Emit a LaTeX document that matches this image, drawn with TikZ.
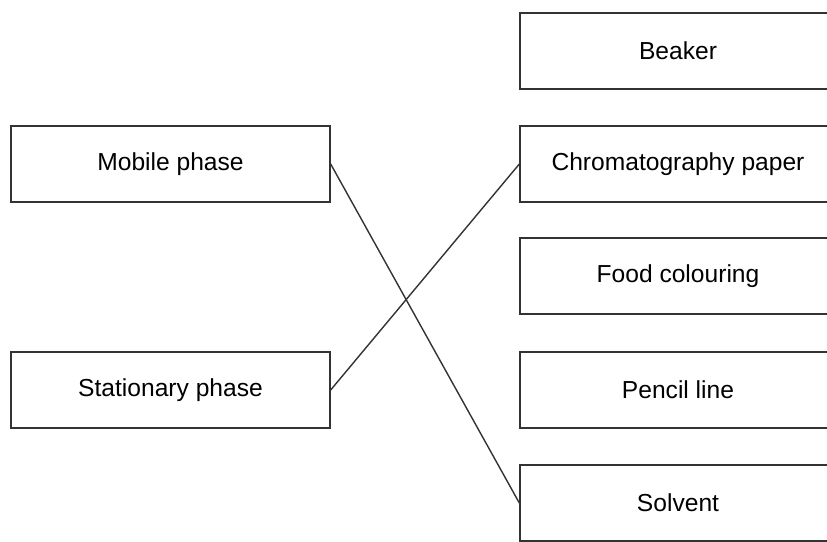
\documentclass[tikz,border=0pt]{standalone}
\usepackage{fontspec}
\setmainfont{Liberation Sans}
\usepackage{tikz}
\usetikzlibrary{positioning}
\definecolor{edge}{HTML}{333333}

\begin{document}
\begin{tikzpicture}[x=0.02cm, y=-0.02cm,
  box/.style={draw=edge, line width=0.8pt, fill=white,
              minimum height=1.52cm, inner sep=0pt, font=\fontsize{14}{16}\selectfont},
  leftbox/.style={box, minimum width=6.38cm},
  rightbox/.style={box, minimum width=6.32cm}]
  \clip (0,0) rectangle (827,541);
  \useasboundingbox (0,0) rectangle (827,541);
  % phases on the left
  \node[leftbox] (mobile) at (170.5,164) {Mobile phase};
  \node[leftbox] (stationary) at (170.5,390) {Stationary phase};
  % items on the right
  \foreach \y/\n/\t in {51/beaker/Beaker, 164/paper/Chromatography paper,
                        276/food/Food colouring, 390/pencil/Pencil line,
                        503/solvent/Solvent}
    \node[rightbox] (\n) at (678,\y) {\t};
  \draw[edge, line width=0.8pt] (mobile.east) -- (solvent.west);
  \draw[edge, line width=0.8pt] (stationary.east) -- (paper.west);
\end{tikzpicture}
\end{document}
